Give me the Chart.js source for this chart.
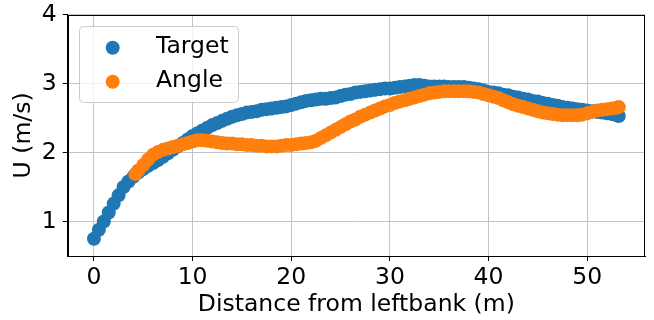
<!DOCTYPE html>
<html>
<head>
<meta charset="utf-8">
<script src="https://cdn.jsdelivr.net/npm/chart.js@4"></script>
<style>
  body { margin: 0; background: #fff; }
</style>
</head>
<body>
<canvas id="myChart" width="654" height="320"></canvas>
<script>
// data
var targetX = [0, 0.5, 1, 1.5, 2, 2.5, 3, 3.5, 4, 4.5, 5, 5.5, 6, 6.5, 7, 7.5, 8, 8.5, 9, 9.5,
  10, 10.5, 11, 11.5, 12, 12.5, 13, 13.5, 14, 14.5, 15, 15.5, 16, 16.5, 17, 17.5, 18, 18.5, 19, 19.5,
  20, 20.5, 21, 21.5, 22, 22.5, 23, 23.5, 24, 24.5, 25, 25.5, 26, 26.5, 27, 27.5, 28, 28.5, 29, 29.5,
  30, 30.5, 31, 31.5, 32, 32.5, 33, 33.5, 34, 34.5, 35, 35.5, 36, 36.5, 37, 37.5, 38, 38.5, 39, 39.5,
  40, 40.5, 41, 41.5, 42, 42.5, 43, 43.5, 44, 44.5, 45, 45.5, 46, 46.5, 47, 47.5, 48, 48.5, 49, 49.5,
  50, 50.5, 51, 51.5, 52, 52.5, 53, 53.2];
var targetU = [0.75, 0.88, 1.00, 1.13, 1.26, 1.38, 1.50, 1.58, 1.65, 1.71, 1.76, 1.81, 1.85, 1.89, 1.94, 1.99, 2.04, 2.09, 2.14, 2.19,
  2.24, 2.28, 2.32, 2.36, 2.40, 2.43, 2.46, 2.49, 2.52, 2.54, 2.56, 2.58, 2.59, 2.60, 2.62, 2.63, 2.64, 2.65, 2.66, 2.67,
  2.69, 2.71, 2.73, 2.75, 2.76, 2.77, 2.78, 2.78, 2.79, 2.80, 2.82, 2.84, 2.85, 2.87, 2.88, 2.89, 2.90, 2.91, 2.92, 2.93,
  2.93, 2.94, 2.95, 2.96, 2.97, 2.98, 2.98, 2.97, 2.96, 2.96, 2.96, 2.96, 2.95, 2.95, 2.95, 2.95, 2.94, 2.93, 2.92, 2.90,
  2.88, 2.87, 2.86, 2.84, 2.83, 2.81, 2.80, 2.78, 2.77, 2.75, 2.74, 2.72, 2.71, 2.69, 2.68, 2.66, 2.65, 2.64, 2.63, 2.62,
  2.61, 2.60, 2.59, 2.58, 2.57, 2.56, 2.54, 2.53];

var angleX = [4.2, 4.5, 5, 5.5, 6, 6.5, 7, 7.5, 8, 8.5, 9, 9.5,
  10, 10.5, 11, 11.5, 12, 12.5, 13, 13.5, 14, 14.5, 15, 15.5, 16, 16.5, 17, 17.5, 18, 18.5, 19, 19.5,
  20, 20.5, 21, 21.5, 22, 22.5, 23, 23.5, 24, 24.5, 25, 25.5, 26, 26.5, 27, 27.5, 28, 28.5, 29, 29.5,
  30, 30.5, 31, 31.5, 32, 32.5, 33, 33.5, 34, 34.5, 35, 35.5, 36, 36.5, 37, 37.5, 38, 38.5, 39, 39.5,
  40, 40.5, 41, 41.5, 42, 42.5, 43, 43.5, 44, 44.5, 45, 45.5, 46, 46.5, 47, 47.5, 48, 48.5, 49, 49.5,
  50, 50.5, 51, 51.5, 52, 52.5, 53, 53.2];
var angleU = [1.69, 1.74, 1.82, 1.90, 1.97, 2.01, 2.04, 2.06, 2.08, 2.10, 2.12, 2.14,
  2.16, 2.18, 2.18, 2.17, 2.16, 2.15, 2.14, 2.13, 2.13, 2.12, 2.12, 2.11, 2.11, 2.10, 2.10, 2.09, 2.09, 2.09, 2.10, 2.11,
  2.11, 2.12, 2.13, 2.14, 2.15, 2.17, 2.21, 2.25, 2.29, 2.33, 2.37, 2.41, 2.45, 2.48, 2.52, 2.55, 2.58, 2.61, 2.64, 2.67,
  2.69, 2.72, 2.74, 2.76, 2.78, 2.80, 2.82, 2.84, 2.86, 2.87, 2.88, 2.89, 2.89, 2.89, 2.89, 2.89, 2.89, 2.88, 2.87, 2.85,
  2.83, 2.81, 2.79, 2.76, 2.73, 2.70, 2.68, 2.66, 2.64, 2.62, 2.60, 2.58, 2.57, 2.56, 2.55, 2.54, 2.54, 2.54, 2.54, 2.55,
  2.57, 2.59, 2.61, 2.62, 2.63, 2.64, 2.65, 2.66];

var xTicks = [0, 10, 20, 30, 40, 50];
var yTicks = [1, 2, 3, 4];

function toPoints(xs, ys) {
  return xs.map(function (x, i) { return { x: x, y: ys[i] }; });
}

Chart.defaults.font.family = 'DejaVu Sans';
Chart.defaults.font.size = 23.5;
Chart.defaults.color = '#000';

// matplotlib style: top/right spines and a framed legend inside the axes
var framePlugin = {
  id: 'frame',
  afterDraw: function (chart) {
    var c = chart.ctx, a = chart.chartArea;
    c.save();
    c.strokeStyle = '#000';
    c.lineWidth = 1;
    c.strokeRect(Math.round(a.left) + 0.5, Math.round(a.top) + 0.5,
      Math.round(a.right) - Math.round(a.left) - 1, Math.round(a.bottom) - Math.round(a.top));

    // legend box
    var bx = 79.5, by = 26.5, bw = 159, bh = 76, r = 4;
    c.beginPath();
    c.moveTo(bx + r, by);
    c.arcTo(bx + bw, by, bx + bw, by + bh, r);
    c.arcTo(bx + bw, by + bh, bx, by + bh, r);
    c.arcTo(bx, by + bh, bx, by, r);
    c.arcTo(bx, by, bx + bw, by, r);
    c.closePath();
    c.fillStyle = 'rgba(255,255,255,0.8)';
    c.fill();
    c.strokeStyle = '#cccccc';
    c.stroke();

    chart.data.datasets.forEach(function (ds, i) {
      var idx = ds.legendIndex;
      var y = 47.7 + idx * 34;
      c.beginPath();
      c.arc(112.7, y, 7, 0, Math.PI * 2);
      c.fillStyle = ds.backgroundColor;
      c.fill();
      c.fillStyle = '#000';
      c.font = '23.5px "DejaVu Sans"';
      c.textBaseline = 'middle';
      c.textAlign = 'left';
      c.fillText(ds.label, 156, y - 1);
    });
    c.restore();
  }
};

var ctx = document.getElementById('myChart');
var myChart = new Chart(ctx, {
  type: 'scatter',
  data: {
    datasets: [{
      label: 'Target',
      data: toPoints(targetX, targetU),
      backgroundColor: '#1f77b4',
      borderWidth: 0,
      pointRadius: 7,
      pointHoverRadius: 7,
      order: 2,
      legendIndex: 0
    }, {
      label: 'Angle',
      data: toPoints(angleX, angleU),
      backgroundColor: '#ff7f0e',
      borderWidth: 0,
      pointRadius: 7,
      pointHoverRadius: 7,
      order: 1,
      legendIndex: 1
    }]
  },
  options: {
    responsive: false,
    maintainAspectRatio: false,
    devicePixelRatio: 1,
    animation: false,
    layout: { padding: { left: 0, right: 9, top: 14.7, bottom: 0 } },
    plugins: {
      legend: { display: false },
      tooltip: { enabled: false }
    },
    scales: {
      x: {
        type: 'linear',
        position: 'bottom',
        min: -2.66,
        max: 55.86,
        z: 1,
        afterBuildTicks: function (scale) {
          scale.ticks = xTicks.map(function (v) { return { value: v }; });
        },
        afterFit: function (scale) { scale.height = 64; },
        ticks: { padding: 3, maxRotation: 0, color: '#000' },
        grid: { color: '#c4c4c4', lineWidth: 1, tickColor: '#000', tickLength: 5, tickWidth: 1 },
        border: { color: '#000', width: 1 },
        title: { display: true, text: 'Distance from leftbank (m)', color: '#000', padding: { top: 0, bottom: 1 } }
      },
      y: {
        type: 'linear',
        min: 0.5,
        max: 4,
        z: 1,
        afterBuildTicks: function (scale) {
          scale.ticks = yTicks.map(function (v) { return { value: v }; });
        },
        afterFit: function (scale) {
          scale.width = 67.7;
          scale.paddingTop = 0;
          scale.paddingBottom = 0;
        },
        ticks: { padding: 6, color: '#000', font: { lineHeight: 1 } },
        grid: { color: '#c4c4c4', lineWidth: 1, tickColor: '#000', tickLength: 5, tickWidth: 1 },
        border: { color: '#000', width: 1 },
        title: { display: true, text: 'U (m/s)', color: '#000', padding: { top: 9.6, bottom: 0 } }
      }
    }
  },
  plugins: [framePlugin]
});
</script>
</body>
</html>
